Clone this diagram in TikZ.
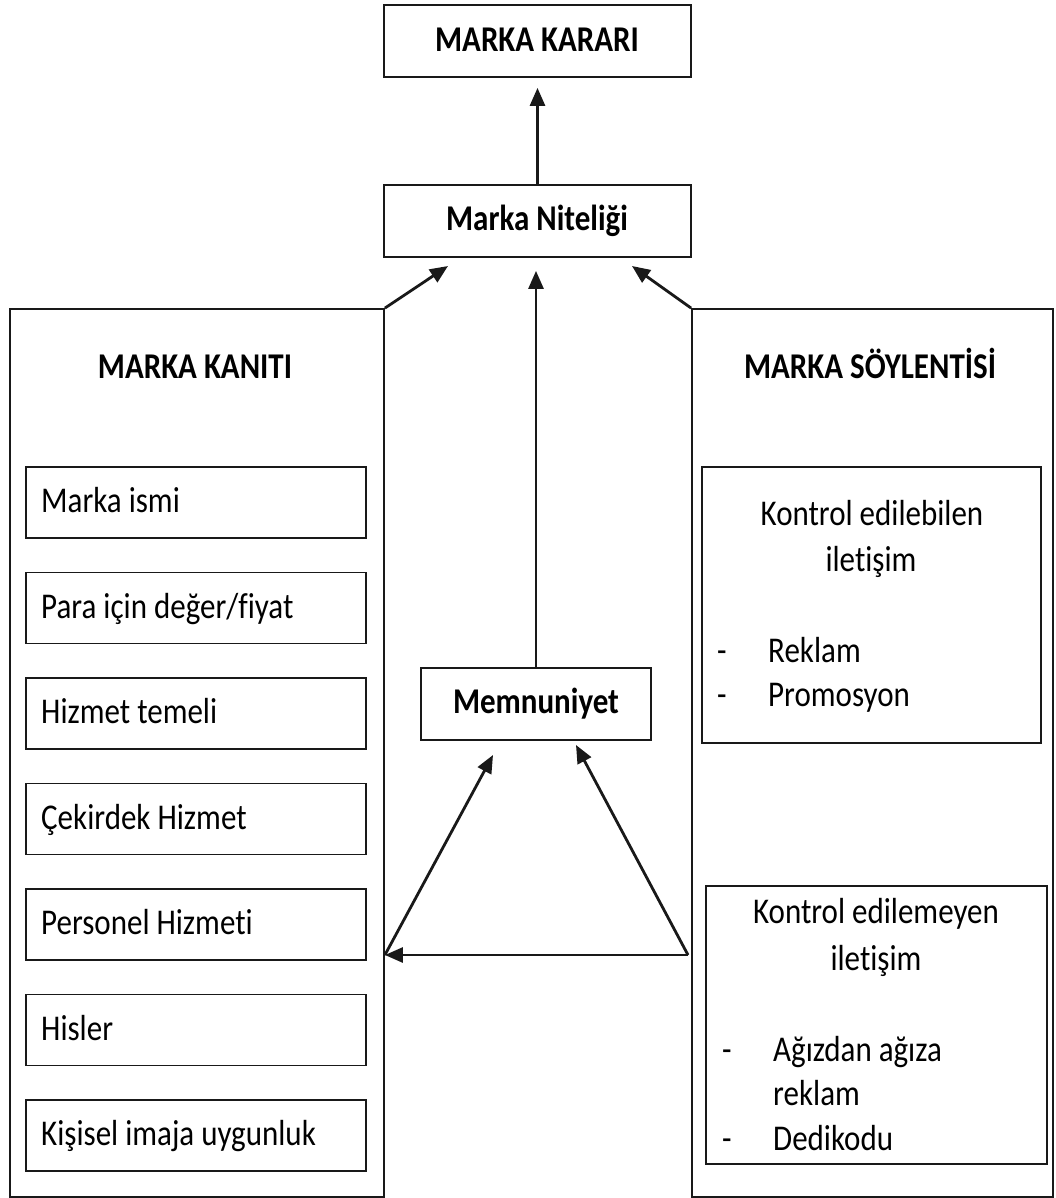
\documentclass[tikz,border=0pt]{standalone}
\usepackage{fontspec}
\setmainfont{Carlito}[Ligatures=NoCommon]
\usetikzlibrary{arrows.meta}
\newcommand\stretchtxt[1]{\scalebox{1}[1.17]{#1}}
\begin{document}
\begin{tikzpicture}[x=1pt,y=-1pt,
  box/.style={draw=black!90, line width=1.8pt, inner sep=0pt},
  txt/.style={font=\fontsize{31}{45}\selectfont, inner sep=0pt, anchor=base},
  lefttxt/.style={txt, anchor=base west},
  hd/.style={font=\fontsize{31}{45}\selectfont\bfseries, inner sep=0pt, anchor=base},
  arr/.style={draw=black!90, line width=2.8pt, -{Triangle[length=18pt,width=15pt]}},
]
\useasboundingbox[fill=white] (0,0) rectangle (1055,1198);

% top boxes
\node[box, minimum width=307pt, minimum height=72pt] (karar) at (537.5,41) {};
\node[hd] (kararT) at (537,52) {\stretchtxt{MARKA KARARI}};
\node[box, minimum width=307pt, minimum height=72pt] (nitelik) at (537.5,221) {};
\node[hd] (nitelikT) at (537,231) {\stretchtxt{Marka Niteliği}};

% the two large frames
\node[box, minimum width=374pt, minimum height=888pt] (kanit) at (197,753) {};
\node[hd] (kanitT) at (195,378) {\stretchtxt{MARKA KANITI}};
\node[box, minimum width=361pt, minimum height=888pt] (soylenti) at (872.5,753) {};
\node[hd] (soylentiT) at (870,378) {\stretchtxt{MARKA SÖYLENTİSİ}};

% evidence items
\foreach \i/\t in {0/{Marka ismi}, 1/{Para için değer/fiyat}, 2/{Hizmet temeli},
                   3/{Çekirdek Hizmet}, 4/{Personel Hizmeti}, 5/{Hisler},
                   6/{Kişisel imaja uygunluk}} {
  \node[box, minimum width=340pt, minimum height=71pt] (item\i) at (196,{502.5+105.5*\i}) {};
  \node[lefttxt] (itemT\i) at (41,{512.5+105.5*\i}) {\stretchtxt{\t}};
}

% controllable communication
\node[box, minimum width=339pt, minimum height=276pt] (kon1) at (871.5,605) {};
\node[txt] (kon1a) at (872,525) {\stretchtxt{Kontrol edilebilen}};
\node[txt] (kon1b) at (871,571) {\stretchtxt{iletişim}};
\node[lefttxt] (kon1d1) at (717,662) {\stretchtxt{-}};
\node[lefttxt] (kon1c) at (768,662) {\stretchtxt{Reklam}};
\node[lefttxt] (kon1d2) at (717,706) {\stretchtxt{-}};
\node[lefttxt] (kon1e) at (768,706) {\stretchtxt{Promosyon}};

% uncontrollable communication
\node[box, minimum width=341pt, minimum height=278pt] (kon2) at (876.3,1025) {};
\node[txt] (kon2a) at (876,923) {\stretchtxt{Kontrol edilemeyen}};
\node[txt] (kon2b) at (876,970) {\stretchtxt{iletişim}};
\node[lefttxt] (kon2d1) at (722,1061) {\stretchtxt{-}};
\node[lefttxt] (kon2c) at (773,1061) {\stretchtxt{Ağızdan ağıza}};
\node[lefttxt] (kon2e) at (773,1105) {\stretchtxt{reklam}};
\node[lefttxt] (kon2d2) at (722,1150) {\stretchtxt{-}};
\node[lefttxt] (kon2f) at (773,1150) {\stretchtxt{Dedikodu}};

% satisfaction
\node[box, minimum width=230pt, minimum height=72pt] (memnun) at (536,704) {};
\node[hd] (memnunT) at (536,713) {\stretchtxt{Memnuniyet}};

% arrow end points
\coordinate (nitL) at (448,266);
\coordinate (nitR) at (632,266);
\coordinate (memL) at (493,755);
\coordinate (memR) at (576,745);
\coordinate (baseY) at (0,955);
\coordinate (triL) at (kanit.east |- baseY);
\coordinate (triR) at (688,955);

% connectors
\draw[arr, shorten >=10pt] (nitelik.north) -- (karar.south);
\draw[arr] (kanit.north east) -- (nitL);
\draw[arr] (soylenti.north west) -- (nitR);
\draw[arr, shorten >=13pt] (memnun.north) -- (memnun.north |- nitelik.south);
\draw[arr] (triR) -- (triL);
\draw[arr] (triL) -- (memL);
\draw[arr] (triR) -- (memR);
\end{tikzpicture}
\end{document}
